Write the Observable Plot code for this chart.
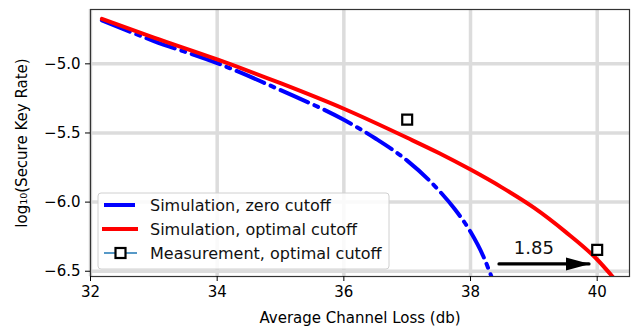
<!DOCTYPE html>
<html>
<head>
<meta charset="utf-8">
<script src="https://cdn.jsdelivr.net/npm/d3@7"></script>
<script src="https://cdn.jsdelivr.net/npm/@observablehq/plot@0.6"></script>
<style>
  html, body { margin: 0; padding: 0; background: #fff; }
  #chart { width: 644px; height: 330px; }
</style>
</head>
<body>
<div id="chart"></div>
<script>
// ---- data ----
const xTicks = [32, 34, 36, 38, 40];
const yTicks = [-5.0, -5.5, -6.0, -6.5];

const optimalX = [32.18, 33, 34, 35, 36, 37, 37.5, 38, 38.5, 39, 39.5, 40, 40.3];
const optimalY = [-4.675, -4.810, -4.968, -5.140, -5.325, -5.535, -5.645, -5.765, -5.895, -6.04, -6.215, -6.415, -6.57];

const zeroX = [32.18, 33, 34, 35, 36, 36.5, 37, 37.5, 37.75, 38, 38.2, 38.38];
const zeroY = [-4.685, -4.835, -4.995, -5.19, -5.405, -5.54, -5.70, -5.915, -6.05, -6.215, -6.39, -6.60];

const measX = [37, 40];
const measY = [-5.403, -6.345];

const arrowX = [38.45, 39.87];
const arrowY = [-6.447, -6.447];
const annotText = ["1.85"];
const annotX = [39.0];
const annotY = [-6.33];

const legendLabels = ["Simulation, zero cutoff", "Simulation, optimal cutoff", "Measurement, optimal cutoff"];

// ---- tables ----
const optimal = optimalX.map((x, i) => ({x, y: optimalY[i]}));
const zero = zeroX.map((x, i) => ({x, y: zeroY[i]}));
const meas = measX.map((x, i) => ({x, y: measY[i]}));
const arrow = arrowX.map((x, i) => ({x, y: arrowY[i]}));
const annot = annotText.map((t, i) => ({t, x: annotX[i], y: annotY[i]}));

const arrowHead = (color, context) => {
  const doc = context && context.document ? context.document : document;
  const ns = "http://www.w3.org/2000/svg";
  const m = doc.createElementNS(ns, "marker");
  m.setAttribute("viewBox", "0 -7 24 14");
  m.setAttribute("markerUnits", "userSpaceOnUse");
  m.setAttribute("markerWidth", 24);
  m.setAttribute("markerHeight", 14);
  m.setAttribute("refX", 23);
  m.setAttribute("refY", 0);
  m.setAttribute("orient", "auto");
  const p = doc.createElementNS(ns, "path");
  p.setAttribute("d", "M0,-6.5L24,0L0,6.5Z");
  p.setAttribute("fill", "black");
  p.setAttribute("stroke", "none");
  m.appendChild(p);
  return m;
};

const fmt = d3.format(".1f");

const chart = Plot.plot({
  width: 644,
  height: 330,
  marginLeft: 90,
  marginRight: 15,
  marginTop: 9,
  marginBottom: 54,
  style: {fontFamily: "DejaVu Sans", fontSize: "15px", color: "#000", background: "#fff", overflow: "visible"},
  x: {domain: [32, 40.51]},
  y: {domain: [-6.538, -4.607]},
  marks: [
    Plot.gridX(xTicks, {stroke: "#dcdcdc", strokeOpacity: 1, strokeWidth: 3.5}),
    Plot.gridY(yTicks, {stroke: "#dcdcdc", strokeOpacity: 1, strokeWidth: 3.5}),
    Plot.line(zero, {x: "x", y: "y", stroke: "#0000ff", strokeWidth: 4, strokeDasharray: "30,7,4,7", curve: "monotone-x", clip: true}),
    Plot.line(optimal, {x: "x", y: "y", stroke: "#ff0000", strokeWidth: 4, curve: "monotone-x", clip: true}),
    Plot.dot(meas, {x: "x", y: "y", symbol: "square", r: 5.6, fill: "white", stroke: "black", strokeWidth: 2.2}),
    Plot.line(arrow, {x: "x", y: "y", stroke: "black", strokeWidth: 3.3, markerEnd: arrowHead}),
    Plot.text(annot, {x: "x", y: "y", text: "t", fontSize: 18, fill: "#111"}),
    Plot.frame({stroke: "#333", strokeWidth: 1.2}),
    Plot.axisX(xTicks, {tickSize: 5, tickPadding: 5, fontSize: 15, label: "Average Channel Loss (db)", labelAnchor: "center", labelOffset: 46, labelArrow: "none"}),
    Plot.axisY(yTicks, {tickSize: 5, tickPadding: 5, fontSize: 15, tickFormat: fmt, label: "log₁₀(Secure Key Rate)", labelAnchor: "center", labelOffset: 74, labelArrow: "none"})
  ]
});

document.getElementById("chart").appendChild(chart);

// ---- legend inside the plot ----
const svg = d3.select(chart.tagName.toLowerCase() === "svg" ? chart : chart.querySelector("svg"));
const lg = svg.append("g").attr("font-family", "DejaVu Sans").attr("font-size", 16).attr("text-anchor", "start");
lg.append("rect")
  .attr("x", 98).attr("y", 193).attr("width", 291).attr("height", 76)
  .attr("rx", 3).attr("fill", "white").attr("fill-opacity", 0.85)
  .attr("stroke", "#d0d0d0").attr("stroke-width", 1);
const rowsY = [205, 229, 253];
lg.append("line").attr("x1", 104).attr("x2", 135).attr("y1", rowsY[0]).attr("y2", rowsY[0])
  .attr("stroke", "#0000ff").attr("stroke-width", 4);
lg.append("line").attr("x1", 102).attr("x2", 138).attr("y1", rowsY[1]).attr("y2", rowsY[1])
  .attr("stroke", "#ff0000").attr("stroke-width", 4);
lg.append("line").attr("x1", 104).attr("x2", 137).attr("y1", rowsY[2]).attr("y2", rowsY[2])
  .attr("stroke", "#1f77b4").attr("stroke-width", 1.6);
lg.append("rect").attr("x", 115.5).attr("y", rowsY[2] - 5).attr("width", 10).attr("height", 10)
  .attr("fill", "white").attr("stroke", "black").attr("stroke-width", 2.2);
legendLabels.forEach((t, i) => {
  lg.append("text").attr("x", 150).attr("y", rowsY[i]).attr("dy", "0.35em")
    .attr("text-anchor", "start").attr("fill", "#111").text(t);
});
</script>
</body>
</html>
